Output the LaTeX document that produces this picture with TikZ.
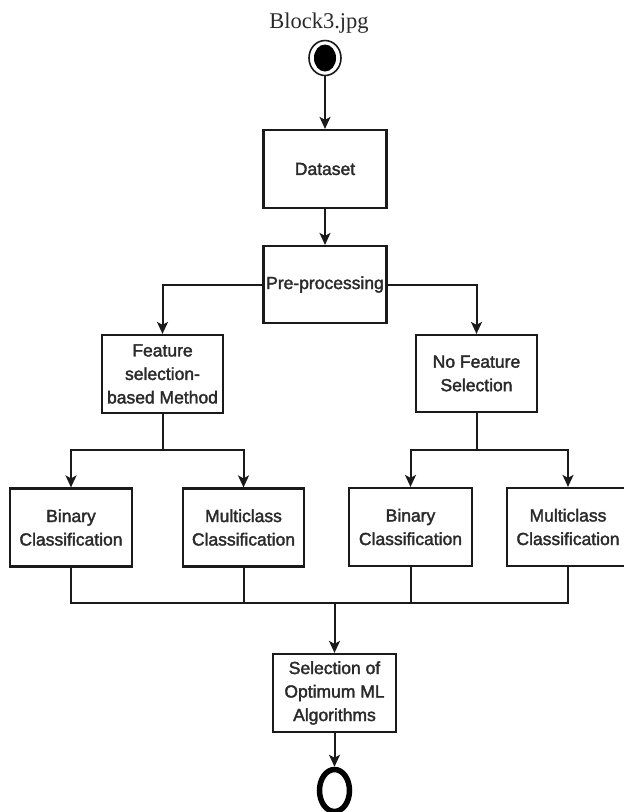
\documentclass[tikz,border=0pt]{standalone}
\usepackage{fontspec}
\setmainfont{Liberation Sans}
\newfontfamily\titlefont{Liberation Serif}
\newfontfamily\boxfont{Liberation Sans}[FakeBold=2]
\usetikzlibrary{arrows.meta,shapes.geometric}
\definecolor{txt}{HTML}{2A2A2A}
\definecolor{lc}{HTML}{1A1A1A}
\tikzset{
  box/.style={draw=lc, line width=2.2pt, rectangle, inner sep=0pt, align=center,
    text=txt, font=\boxfont\fontsize{17.5}{23.5}\selectfont, minimum height=78pt},
  arr/.style={draw=lc, line width=2pt, -{Stealth[length=12pt,width=11pt,inset=3pt]}},
  ln/.style={draw=lc, line width=2pt},
}
\begin{document}
\begin{tikzpicture}[x=1pt,y=-1pt]
\useasboundingbox (0,0) rectangle (624,812);
\node[font=\titlefont\fontsize{22.5}{26}\selectfont, anchor=base, text=txt] (title) at (319,28) {Block3.jpg};
\node[ellipse, draw=lc, line width=1.6pt, minimum width=32pt, minimum height=35pt, inner sep=0pt] (start) at (325,58) {};
\node[ellipse, fill=black, minimum width=22pt, minimum height=27pt, inner sep=0pt] (startin) at (325,58) {};
\node[box, minimum width=123pt] (dataset) at (325,169) {Dataset};
\node[box, minimum width=123pt, minimum height=77pt] (pre) at (325,284.5) {Pre-processing};
\node[box, minimum width=121pt] (feat) at (162.5,374) {Feature\\selection-\\based Method};
\node[box, minimum width=121pt, minimum height=77pt] (nofeat) at (476.5,373.5) {No Feature\\Selection};
\node[box, minimum width=122pt] (b1) at (71,527.5) {Binary\\Classification};
\node[box, minimum width=121pt] (m1) at (243.5,527.5) {Multiclass\\Classification};
\node[box, minimum width=123pt] (b2) at (410.5,527) {Binary\\Classification};
\node[box, minimum width=122pt] (m2) at (568,527) {Multiclass\\Classification};
\node[box, minimum width=123pt] (sel) at (334.5,693) {Selection of\\Optimum ML\\Algorithms};
\node[ellipse, draw=black, line width=5.5pt, minimum width=30pt, minimum height=42pt, inner sep=0pt] (end) at (334.5,790.5) {};
% connectors
\draw[arr] (start) -- (dataset);
\draw[arr] (dataset) -- (pre);
\draw[arr] (pre.west) -| (feat.north);
\draw[arr] (pre.east) -| (nofeat.north);
\coordinate (fj) at (162.5,450);
\coordinate (nj) at (476.5,450);
\draw[ln] (feat.south) -- (fj);
\draw[arr] (fj) -| (b1.north);
\draw[arr] (fj) -| (m1.north);
\draw[ln] (nofeat.south) -- (nj);
\draw[arr] (nj) -| (b2.north);
\draw[arr] (nj) -| (m2.north);
\coordinate (mj) at (334.5,603);
\draw[ln] (b1.south) |- (mj) -| (m2.south);
\draw[ln] (m1.south) -- (m1.south |- mj);
\draw[ln] (b2.south) -- (b2.south |- mj);
\draw[arr] (mj) -- (sel.north);
\draw[arr] (sel.south) -- (end.north);
\end{tikzpicture}
\end{document}
